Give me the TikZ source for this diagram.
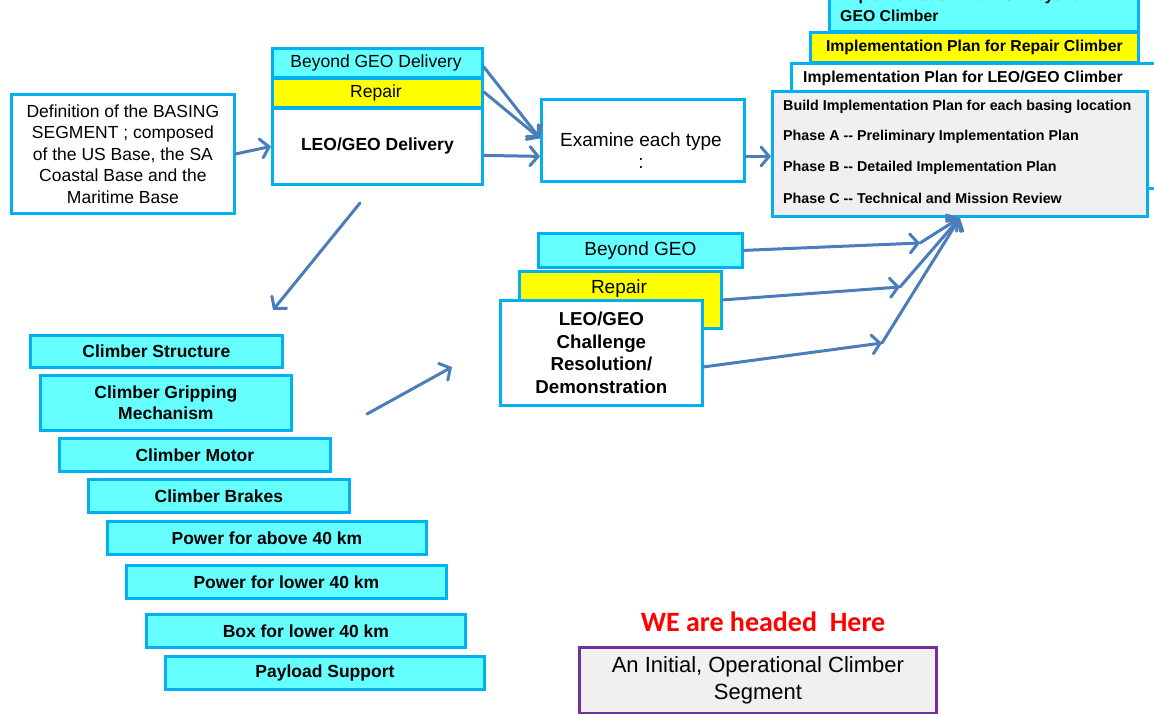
\documentclass[tikz,border=0pt]{standalone}
\usepackage{fontspec}
\setmainfont{Liberation Sans}
\newfontfamily\carlito{Carlito}
\usetikzlibrary{arrows.meta,calc}
\definecolor{cyb}{HTML}{00B0F0}
\definecolor{cyf}{HTML}{66FFFF}
\definecolor{yel}{HTML}{FFFF00}
\definecolor{arrblue}{HTML}{4A7EBB}
\definecolor{grayf}{HTML}{F0F0F0}
\definecolor{purp}{HTML}{7030A0}
\begin{document}
\begin{tikzpicture}[x=1pt,y=-1pt,
  bx/.style={draw=cyb, line width=2.8pt, inner sep=0pt, anchor=north west, align=center, fill=white},
  cy/.style={bx, fill=cyf},
  ye/.style={bx, fill=yel},
  gr/.style={bx, fill=grayf},
  fA/.style={font=\fontsize{17.5}{21.5}\selectfont},
  fAb/.style={font=\bfseries\fontsize{17.5}{21}\selectfont},
  fB/.style={font=\fontsize{19}{22}\selectfont},
  fBb/.style={font=\bfseries\fontsize{18.7}{22.7}\selectfont},
  fC/.style={font=\bfseries\fontsize{15.8}{21}\selectfont},
  fD/.style={font=\bfseries\fontsize{14.3}{17}\selectfont},
  txt/.style={inner sep=0pt, anchor=west, align=left},
  arr/.style={draw=arrblue, line width=3pt, line cap=round, -{Straight Barb[length=8pt,width=19pt,line cap=round]}},
]
\useasboundingbox (0,0) rectangle (1154,714);
\clip (0,0) rectangle (1154,714);

% top right stack
\node[cy, minimum width=309pt, minimum height=70pt] (tcb) at (828,-40) {};
\node[txt, fC] (tcbt) at (840,5) {Implementation Plan for Beyond\\GEO Climber};
\node[ye, fC, minimum width=328pt, minimum height=30pt] (ty) at (809,31) {Implementation Plan for Repair Climber};
\node[bx, minimum width=375pt, minimum height=125pt] (tw) at (790,62) {};
\node[txt, fC] (twt) at (803,78) {Implementation Plan for LEO/GEO Climber};
\node[gr, minimum width=375pt, minimum height=125pt] (gray) at (771,90) {};
\node[txt, fD] (g1) at (783,107) {Build Implementation Plan for each basing location};
\node[txt, fD] (g2) at (783,137) {Phase A -{}- Preliminary Implementation Plan};
\node[txt, fD] (g3) at (783,168) {Phase B -{}- Detailed Implementation Plan};
\node[txt, fD] (g4) at (783,198) {Phase C -{}- Technical and Mission Review};

% definition
\node[bx, fA, minimum width=223pt, minimum height=119pt] (def) at (10,93) {Definition of the BASING\\SEGMENT ; composed\\of the US Base, the SA\\Coastal Base and the\\Maritime Base};

% top-left stack
\node[cy, minimum width=210pt, minimum height=29pt] (bgd) at (271,47) {};
\node[fA, inner sep=0pt] (bgdt) at (376,63) {Beyond GEO Delivery};
\node[ye, minimum width=210pt, minimum height=29pt] (rep) at (271,77) {};
\node[fA, inner sep=0pt] (rept) at (376,93) {Repair};
\node[bx, fAb, minimum width=210pt, minimum height=76pt] (leo) at (271,107) {LEO/GEO Delivery};

% examine
\node[bx, minimum width=203pt, minimum height=82pt] (ex) at (540,98) {};
\node[fB, align=center, inner sep=0pt] (ext) at (641,151) {Examine each type\\:};

% middle stack
\node[cy, fB, minimum width=204pt, minimum height=34pt] (bg) at (537,232) {Beyond GEO};
\node[ye, minimum width=202pt, minimum height=57pt] (rp2) at (518,270) {};
\node[fB, inner sep=0pt] (rp2t) at (619,289) {Repair};
\node[bx, fBb, minimum width=202pt, minimum height=105pt] (lc) at (499,299) {LEO/GEO\\Challenge\\Resolution/\\Demonstration};

% climber stack
\node[cy, fAb, minimum width=252pt, minimum height=32pt] (c1) at (29,334) {Climber Structure};
\node[cy, fAb, minimum width=251pt, minimum height=55pt] (c2) at (39,374) {Climber Gripping\\Mechanism};
\node[cy, fAb, minimum width=271pt, minimum height=33pt] (c3) at (58,437) {Climber Motor};
\node[cy, fAb, minimum width=261pt, minimum height=33pt] (c4) at (87,478) {Climber Brakes};
\node[cy, fAb, minimum width=319pt, minimum height=33pt] (c5) at (106,520) {Power for above 40 km};
\node[cy, fAb, minimum width=320pt, minimum height=33pt] (c6) at (125,564) {Power for lower 40 km};
\node[cy, fAb, minimum width=319pt, minimum height=33pt] (c7) at (145,613) {Box for lower 40 km};
\node[cy, fAb, minimum width=319pt, minimum height=33pt] (c8) at (164,655) {Payload Support};

% goal
\node[text=red, font=\carlito\bfseries\fontsize{28}{32}\selectfont, inner sep=0pt] (we) at (763,622) {WE are headed\ \ Here};
\node[draw=purp, fill=grayf, line width=2.8pt, inner sep=0pt, anchor=north west, align=center,
      minimum width=357pt, minimum height=66pt, font=\fontsize{22}{27}\selectfont] (goal) at (578,646) {An Initial, Operational Climber\\Segment};

% connectors
\draw[arr] (def.east) -- (leo.west);
\draw[arr] ([yshift=-4pt]bgd.east) -- ([yshift=2pt]ex.west);
\draw[arr] ([yshift=1pt]rep.east) -- ([yshift=2pt]ex.west);
\draw[arr] ([yshift=-9pt]leo.east) -- ([yshift=-16pt]ex.west);
\draw[arr] ([yshift=-16pt]ex.east) -- ([yshift=-16pt]ex.east -| gray.west);

\coordinate (d1) at (360,203);
\coordinate (d2) at (273,310);
\draw[arr] (d1) -- (d2);
\coordinate (u1) at (367,414);
\coordinate (u2) at (452,367);
\draw[arr] (u1) -- (u2);

\coordinate (k1) at (920,243);
\coordinate (k2) at (900,287);
\coordinate (k3) at (882,343);
\draw[arr] (bg.east) -- (k1);
\draw[arr] (rp2.east) -- (k2);
\draw[arr] ([yshift=-14pt]lc.east) -- (k3);
\draw[arr] (k1) -- (gray.south);
\draw[arr] (k2) -- (gray.south);
\draw[arr] (k3) -- (gray.south);
\end{tikzpicture}
\end{document}
